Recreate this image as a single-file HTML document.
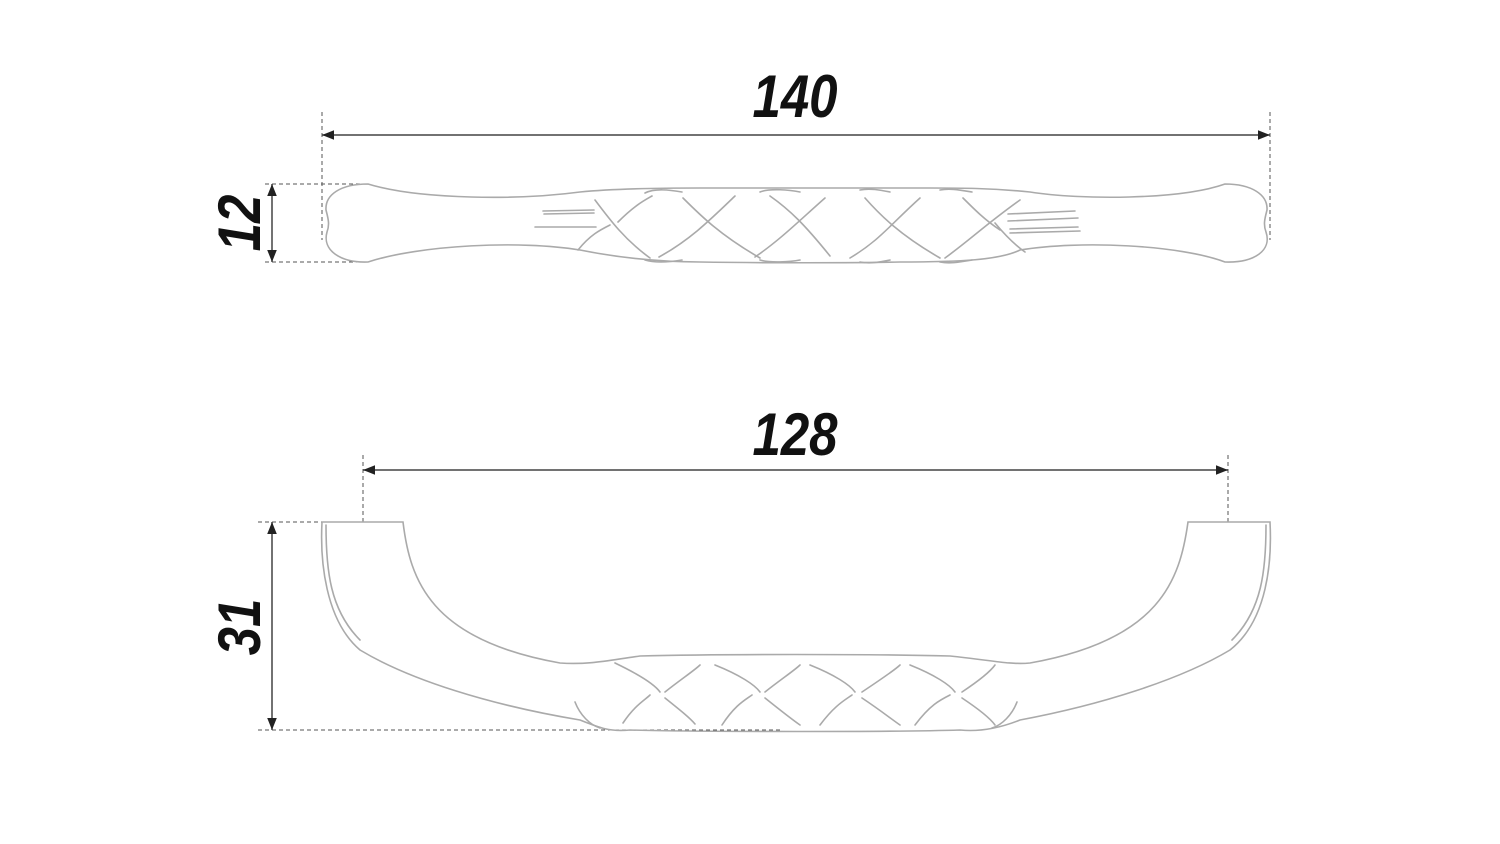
<!DOCTYPE html>
<html><head><meta charset="utf-8"><style>
html,body{margin:0;padding:0;background:#fff;}
svg{display:block;}
text{font-family:"Liberation Sans",sans-serif;font-weight:bold;font-style:italic;font-size:60px;fill:#111;}
</style></head><body>
<svg width="1500" height="844" viewBox="0 0 1500 844" xmlns="http://www.w3.org/2000/svg">
<defs>
<marker id="a" viewBox="0 0 10 10" refX="10" refY="5" markerWidth="12" markerHeight="12" orient="auto-start-reverse" markerUnits="userSpaceOnUse"><path d="M0,1 L10,5 L0,9 z" fill="#222"/></marker>
</defs>
<rect width="1500" height="844" fill="#fff"/>
<g stroke="#555" stroke-width="1" stroke-dasharray="4,3" fill="none">
<line x1="322" y1="112" x2="322" y2="240"/>
<line x1="1270" y1="112" x2="1270" y2="240"/>
<line x1="265" y1="184" x2="370" y2="184"/>
<line x1="265" y1="262" x2="370" y2="262"/>
<line x1="363" y1="455" x2="363" y2="522"/>
<line x1="1228" y1="455" x2="1228" y2="522"/>
<line x1="258" y1="522" x2="322" y2="522"/>
<line x1="258" y1="730" x2="780" y2="730"/>
</g>
<g stroke="#444" stroke-width="1.5" fill="none">
<line x1="322" y1="135" x2="1270" y2="135" marker-start="url(#a)" marker-end="url(#a)"/>
<line x1="272" y1="184" x2="272" y2="262" marker-start="url(#a)" marker-end="url(#a)"/>
<line x1="363" y1="470" x2="1228" y2="470" marker-start="url(#a)" marker-end="url(#a)"/>
<line x1="272" y1="522" x2="272" y2="730" marker-start="url(#a)" marker-end="url(#a)"/>
</g>
<text transform="translate(795,117) scale(0.85,1)" text-anchor="middle">140</text>
<text transform="translate(795,455) scale(0.85,1)" text-anchor="middle">128</text>
<text transform="translate(260,223) rotate(-90) scale(0.85,1)" text-anchor="middle">12</text>
<text transform="translate(260,627) rotate(-90) scale(0.85,1)" text-anchor="middle">31</text>
<g stroke="#aaa" stroke-width="1.6" fill="none" stroke-linecap="round">
<path d="M368,184 C340,184 325,195 326,210 C328,218 330,224 327,232 C322,250 340,263 368,262 C420,245 520,240 580,250 C620,258 660,262 700,262 C760,263 860,263 900,262 C960,262 1000,260 1020,250 C1080,240 1180,245 1225,262 C1255,263 1272,250 1266,232 C1263,224 1265,218 1267,210 C1268,195 1252,184 1225,184 C1180,200 1080,200 1030,192 C990,188 960,188 930,188 C860,188 760,188 700,188 C640,188 600,190 580,192 C520,200 420,200 368,184 Z"/>
<path d="M645,193 C655,188 670,190 682,192 M760,192 C770,188 790,190 800,192 M860,190 C870,188 880,190 890,192 M940,190 C950,188 960,190 972,192"/>
<path d="M645,260 C655,263 670,262 682,260 M760,260 C770,263 790,262 800,260 M860,262 C870,264 880,262 890,260 M940,262 C950,264 960,262 972,260"/>
<path d="M543,211 L594,210 M535,227 L596,227 M544,214 L594,213"/>
<path d="M595,200 C610,220 625,240 650,258 M618,222 C635,205 645,200 652,196"/>
<path d="M578,250 C590,235 600,230 610,225"/>
<path d="M683,198 C700,215 720,235 760,258 M659,257 C690,240 710,220 735,196"/>
<path d="M770,196 C790,210 805,225 830,256 M755,257 C780,240 800,220 825,198"/>
<path d="M865,198 C880,215 900,235 940,258 M850,258 C880,240 890,225 920,198"/>
<path d="M963,198 C975,210 985,220 1000,230 M945,258 C970,240 985,225 1020,200 M995,223 C1005,235 1015,245 1025,252"/>
<path d="M1008,214 L1075,211 M1008,221 L1078,218 M1010,229 L1078,227 M1010,233 L1080,231"/>
</g>
<g stroke="#aaa" stroke-width="1.6" fill="none" stroke-linecap="round">
<path d="M322,522 L403,522 C410,580 430,640 560,663 C590,665 610,660 640,656 C720,654 870,654 950,656 C990,660 1010,665 1030,663 C1160,640 1180,580 1188,522 L1270,522 C1272,560 1268,620 1230,650 C1180,680 1100,705 1020,720 C1000,728 980,732 960,730 C900,732 700,732 630,730 C610,732 600,728 580,720 C490,705 410,680 360,650 C325,620 320,560 322,522 Z"/>
<path d="M326,525 C326,570 330,610 360,640 M1266,525 C1266,570 1262,610 1232,640"/>
<path d="M575,702 C580,715 590,725 600,728 M1017,702 C1012,715 1002,725 992,728"/>
<path d="M615,663 C640,675 655,685 660,692 M665,692 C680,680 695,670 700,665"/>
<path d="M623,723 C635,705 645,700 650,695 M665,698 C680,710 690,718 695,724"/>
<path d="M715,665 C740,675 755,685 760,692 M765,692 C780,680 795,670 800,665"/>
<path d="M722,725 C735,705 745,700 752,695 M765,698 C780,710 790,718 800,725"/>
<path d="M810,665 C835,675 850,685 855,692 M862,692 C880,680 895,670 900,665"/>
<path d="M820,725 C835,705 845,700 852,695 M862,698 C880,710 890,718 900,725"/>
<path d="M910,665 C935,675 950,685 955,692 M962,692 C980,680 990,672 995,665"/>
<path d="M915,725 C930,705 940,700 950,695 M962,698 C980,710 990,718 995,725"/>
</g>
</svg>
</body></html>
